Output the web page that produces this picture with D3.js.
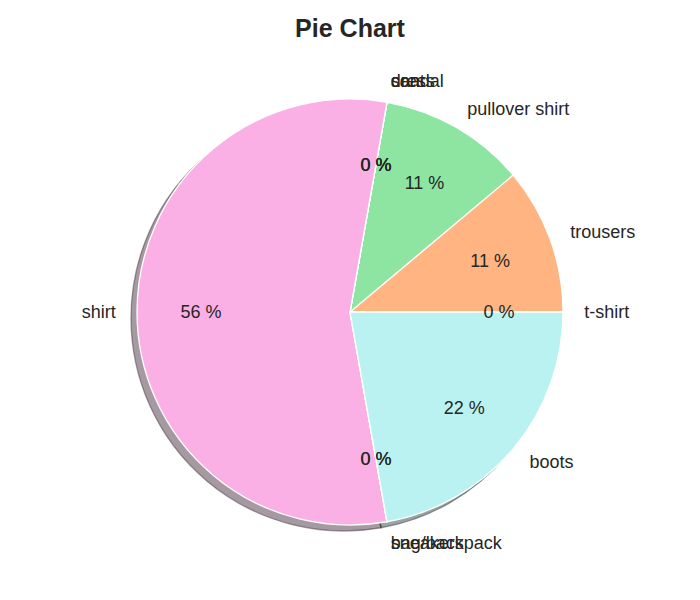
<!DOCTYPE html>
<html>
<head>
<meta charset="utf-8">
<script src="https://cdn.jsdelivr.net/npm/d3@7"></script>
<style>
  body { margin: 0; background: #fff; }
  text { font-family: "Liberation Sans", Arial, sans-serif; fill: #262626; }
</style>
</head>
<body>
<svg id="chart" width="700" height="600"></svg>
<script>
const categories = ["t-shirt", "trousers", "pullover shirt", "dress", "coat", "sandal", "shirt", "sneakers", "bag/backpack", "boots"];
const counts = [0, 1, 1, 0, 0, 0, 5, 0, 0, 2];
const colors = ["#a1c9f4", "#ffb482", "#8de5a1", "#ff9f9b", "#d0bbff", "#debb9b", "#fab0e4", "#cfcfcf", "#fffea3", "#b9f2f0"];
const title = "Pie Chart";

const svg = d3.select("#chart");
const cx = 350, cy = 312, r = 213;
const total = d3.sum(counts);

const pie = d3.pie().sort(null).value(d => d.v)
  .startAngle(Math.PI / 2).endAngle(Math.PI / 2 - 2 * Math.PI);
const data = categories.map((c, i) => ({ c, v: counts[i], col: colors[i] }));
const arcs = pie(data);

const arc = d3.arc().innerRadius(0).outerRadius(r);
const labelArc = d3.arc().innerRadius(r * 1.1).outerRadius(r * 1.1);
const pctArc = d3.arc().innerRadius(r * 0.7).outerRadius(r * 0.7);

const g = svg.append("g").attr("transform", `translate(${cx},${cy})`);

// shadows
const shadowCol = c => { const k = d3.rgb(c); return d3.rgb(k.r * 0.3, k.g * 0.3, k.b * 0.3).toString(); };
g.append("g").attr("transform", "translate(-6,6)")
  .selectAll("path").data(arcs).enter().append("path")
  .attr("d", arc)
  .attr("fill", d => shadowCol(d.data.col))
  .attr("fill-opacity", 0.5)
  .attr("stroke", d => shadowCol(d.data.col))
  .attr("stroke-opacity", 0.5)
  .attr("stroke-width", 1.3);

g.append("g").selectAll("path").data(arcs).enter().append("path")
  .attr("d", arc)
  .attr("fill", d => d.data.col)
  .attr("stroke", "#fff")
  .attr("stroke-width", 1.3)
  .attr("stroke-linejoin", "round");

g.append("g").selectAll("text").data(arcs).enter().append("text")
  .attr("x", d => labelArc.centroid(d)[0])
  .attr("y", d => labelArc.centroid(d)[1])
  .attr("dy", "0.32em")
  .attr("text-anchor", d => labelArc.centroid(d)[0] > 0 ? "start" : "end")
  .attr("font-size", 18)
  .text(d => d.data.c);

g.append("g").selectAll("text").data(arcs).enter().append("text")
  .attr("x", d => pctArc.centroid(d)[0])
  .attr("y", d => pctArc.centroid(d)[1])
  .attr("dy", "0.32em")
  .attr("text-anchor", "middle")
  .attr("font-size", 18)
  .text(d => `${Math.round(d.data.v / total * 100)} %`);

svg.append("text")
  .attr("x", 350).attr("y", 37)
  .attr("text-anchor", "middle")
  .attr("font-size", 25)
  .attr("font-weight", "bold")
  .text(title);
</script>
</body>
</html>
